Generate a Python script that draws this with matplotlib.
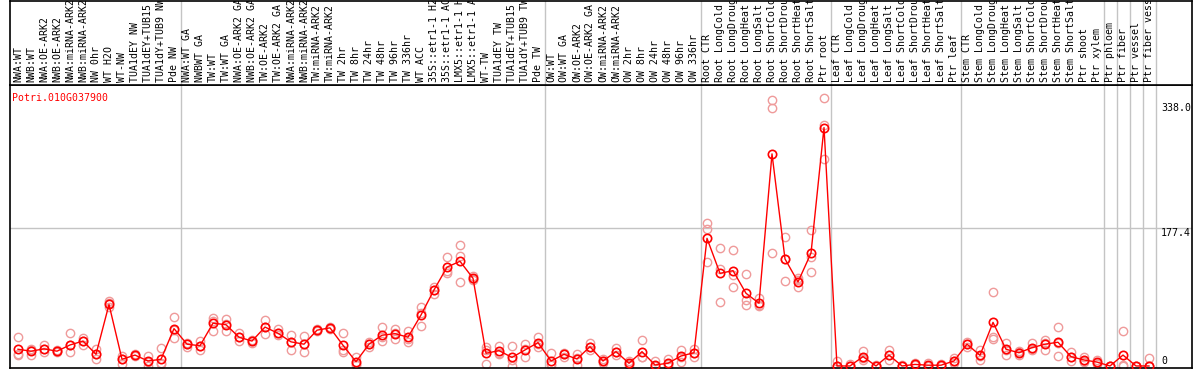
import matplotlib
matplotlib.use("Agg")
import matplotlib.pyplot as plt
import matplotlib.transforms as mtransforms

plt.rcParams['font.family'] = ['DejaVu Sans Mono']

gene = "Potri.010G037900"

labels = [
    # group 1
    "NWA:WT", "NWB:WT", "NWA:OE-ARK2", "NWB:OE-ARK2", "NWA:miRNA-ARK2",
    "NWB:miRNA-ARK2", "NW 0hr", "WT H2O", "WT-NW", "TUA1dEY NW",
    "TUA1dEY+TUB15 NW", "TUA1dY+TUB9 NW", "Pde NW",
    # group 2
    "NWA:WT GA", "NWBWT GA", "TW:WT", "TW:WT GA", "NWA:OE-ARK2 GA",
    "NWB:OE-ARK2 GA", "TW:OE-ARK2", "TW:OE-ARK2 GA", "NWA:miRNA-ARK2",
    "NWB:miRNA-ARK2", "TW:miRNA-ARK2", "TW:miRNA-ARK2", "TW 2hr", "TW 8hr",
    "TW 24hr", "TW 48hr", "TW 96hr", "TW 336hr", "WT ACC",
    "35S::etr1-1 H2O", "35S::etr1-1 ACC", "LMX5::etr1-1 H2O",
    "LMX5::etr1-1 ACC", "WT-TW", "TUA1dEY TW", "TUA1dEY+TUB15 TW",
    "TUA1dY+TUB9 TW", "Pde TW",
    # group 3
    "OW:WT", "OW:WT GA", "OW:OE-ARK2", "OW:OE-ARK2 GA", "OW:miRNA-ARK2",
    "OW:miRNA-ARK2", "OW 2hr", "OW 8hr", "OW 24hr", "OW 48hr", "OW 96hr",
    "OW 336hr",
    # group 4
    "Root CTR", "Root LongCold", "Root LongDrought", "Root LongHeat",
    "Root LongSalt", "Root ShortCold", "Root ShortDrought", "Root ShortHeat",
    "Root ShortSalt", "Ptr root",
    # group 5
    "Leaf CTR", "Leaf LongCold", "Leaf LongDrought", "Leaf LongHeat",
    "Leaf LongSalt", "Leaf ShortCold", "Leaf ShortDrought", "Leaf ShortHeat",
    "Leaf ShortSalt", "Ptr leaf",
    # group 6
    "Stem CTR", "Stem LongCold", "Stem LongDrought", "Stem LongHeat",
    "Stem LongSalt", "Stem ShortCold", "Stem ShortDrought", "Stem ShortHeat",
    "Stem ShortSalt", "Ptr shoot", "Ptr xylem",
    # singles
    "Ptr phloem", "Ptr fiber", "Ptr vessel", "Ptr fiber vessel",
]

group_sizes = [13, 28, 12, 10, 10, 11, 1, 1, 1, 1]

means = [
    21.5, 19, 22, 19, 27, 32, 15, 79, 8.6, 14, 6.4, 8.6, 48,
    28, 26, 55, 53, 37, 32, 50, 42, 31, 28, 46, 49, 26.6, 5.5, 28, 39.5,
    41.5, 37, 65.5, 97.7, 127, 134.5, 112.7, 16.3, 19.7, 11, 20.6, 30,
    6.4, 15, 9, 24.8, 6.4, 18.4, 3.5, 18.4, 1.3, 3.5, 12.8, 17,
    164, 119, 122.5, 93.4, 80.6, 272.5, 137.5, 108, 145, 306.3,
    0, 0, 12, 0, 14, 0, 2, 1, 1, 6.4,
    28, 13.7, 56, 21.5, 17, 23.5, 28, 30.5, 12, 7.7, 5,
    0, 14, 0, 0,
]

replicates = [
    [37, 14, 16], [14, 22, 20], [27, 18, 22], [20, 18, 19], [42, 18, 27],
    [36, 27, 32], [22, 8.6, 15], [84, 81, 76], [13, 2.6, 9], [14, 13, 15],
    [12.5, 0.4, 5], [22.7, 3.5, 2], [63, 36, 46],
    [30, 25, 28], [32.5, 20, 26], [62, 45, 58], [60, 45, 54], [43, 32, 37],
    [33, 30, 32], [59, 41, 50], [47, 40, 42], [40, 21, 31], [39, 17.6, 28],
    [47, 45, 46], [50, 48, 49], [42, 17.6, 20], [12, 1.3, 3], [31, 25, 28],
    [50, 32, 37], [48, 35, 42], [44.6, 31, 35], [76, 52, 68],
    [102, 92.5, 98], [140.5, 119, 122], [155.5, 141, 107.6],
    [115.7, 111, 112], [24.8, 2.2, 21], [25.7, 17, 16], [25.7, 0, 8],
    [28, 12, 22], [37, 24.8, 28],
    [16.3, 1.3, 2], [17, 12, 15], [15.4, 1.3, 10], [29, 20.6, 25],
    [8.6, 4, 6], [23.5, 14, 18], [6.4, 1.3, 3], [33.4, 11, 11], [6.4, 0, 0],
    [8.6, 0, 2], [20.6, 5.5, 12], [22, 12, 17],
    [183.4, 175.7, 133.7], [151, 124, 82], [148.7, 117, 101],
    [118, 84.8, 78.4], [87, 77, 78], [342, 331.6, 145], [165.4, 109, 138],
    [112.7, 102, 110], [174.4, 140.5, 120.4], [344, 266, 309],
    [6.4, 0, 0], [2.6, 0, 0], [19, 7.7, 10], [0, 0, 1], [20.6, 7.7, 14],
    [0, 0, 1], [3.5, 1, 2], [4, 0, 0], [3, 0, 1], [10, 3.5, 6],
    [31, 28, 25], [20.6, 7.7, 13], [95.5, 37.7, 34.7], [29, 14.5, 21],
    [19, 14, 18], [30, 20, 22], [33.4, 20.6, 30], [50, 12.8, 29],
    [18.4, 6.8, 11], [11, 5, 7], [7.7, 3, 4],
    [0, 0, 0], [45, 1.3, 0], [0, 0, 0], [10, 0, 0],
]

ytick_values = [338.0, 177.4, 0]
ytick_labels = ["338.0", "177.4", "0"]

W, H = 1194, 370


def box(l, t, r, b):
    return [l / W, 1 - b / H, (r - l) / W, (b - t) / H]


fig = plt.figure(figsize=(W / 100, H / 100), dpi=100)
ax = fig.add_axes(box(10, 85, 1192, 368))
axl = fig.add_axes(box(10, 0.5, 1192, 85), sharex=ax)

x0 = (10 - 18) / 13
x1 = (1192 - 18) / 13
ax.set_xlim(x0, x1)
ax.set_ylim(-2.6, 361)
axl.set_ylim(0, 1)

for a in (ax, axl):
    a.set_xticks([])
    a.set_yticks([])
    for s in a.spines.values():
        s.set_color('black')
        s.set_linewidth(1.2)

# group separators
pos = -1
for n in group_sizes:
    pos += n
    for a in (ax, axl):
        a.axvline(pos + 0.5, color='#c4c4c4', lw=1, zorder=0)

ax.axhline(177.4, color='#c4c4c4', lw=1, zorder=0)

# replicate points
for i, reps in enumerate(replicates):
    ax.plot([i] * len(reps), reps, linestyle='none', marker='o',
            markersize=6, markerfacecolor='none', markeredgecolor='#ef9a9a',
            markeredgewidth=1.0, zorder=2)

# mean line
xs = list(range(len(means)))
ax.plot(xs, means, color='red', lw=1, marker='o', markersize=6,
        markerfacecolor='none', markeredgecolor='red', markeredgewidth=1.2,
        zorder=3)

# column labels
trans = mtransforms.blended_transform_factory(axl.transData, axl.transAxes)
for i, lab in enumerate(labels):
    axl.text(i, 0.03, lab, rotation=90, ha='center', va='bottom',
             fontsize=7.1, color='black', transform=trans, clip_on=True)

ax.text(0.0015, 0.955, gene, transform=ax.transAxes, color='red',
        fontsize=7.1, ha='left', va='center')

tx = (1161 - 18) / 13
for v, t in zip(ytick_values, ytick_labels):
    ax.text(tx, v, t, ha='left', va='bottom' if v == 0 else 'top',
            fontsize=7.1, color='black')

fig.savefig("out.png", dpi=100)
